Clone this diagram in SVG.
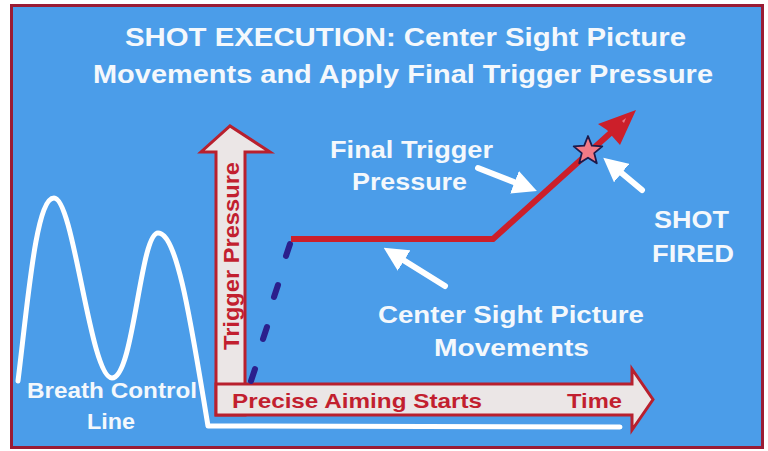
<svg xmlns="http://www.w3.org/2000/svg" width="768" height="451" viewBox="0 0 768 451">
<defs>
<style>
.t{font-family:"Liberation Sans",Arial,sans-serif;font-weight:bold;}
.w{fill:#f4f8fc;}
.r{fill:#c21f2f;}
.ax{fill:#ebe6e6;stroke:#b8202e;stroke-width:3;stroke-linejoin:miter;}
.wa{stroke:#ffffff;stroke-width:6;stroke-linecap:round;fill:none;}
.dash{stroke:#2b1f8c;stroke-width:6;stroke-linecap:round;}
</style>
<marker id="wh" viewBox="0 0 10 10" refX="2" refY="5" markerWidth="4" markerHeight="4" orient="auto" markerUnits="strokeWidth">
<path d="M0,0 L10,5 L0,10 Z" fill="#ffffff"/>
</marker>
</defs>
<rect x="0" y="0" width="768" height="451" fill="#ffffff"/>
<rect id="frame" x="11.5" y="5.5" width="751" height="442" fill="#4b9de9" stroke="#9a1c35" stroke-width="3"/>

<g id="title">
<text class="t w" x="125" y="46" font-size="26" textLength="561" lengthAdjust="spacingAndGlyphs">SHOT EXECUTION:  Center Sight Picture</text>
<text class="t w" x="93" y="83" font-size="26" textLength="620" lengthAdjust="spacingAndGlyphs">Movements and Apply Final Trigger Pressure</text>
</g>

<g id="breath">
<path d="M18,381 C28,300 36,198 54,198 C74,198 90,378 112,378 C134,378 140,233 158,233 C178,233 192,330 208,426 L620,427" stroke="#ffffff" stroke-width="5" fill="none" stroke-linejoin="round" stroke-linecap="round"/>
<text class="t w" x="27" y="398" font-size="22" textLength="170" lengthAdjust="spacingAndGlyphs">Breath Control</text>
<text class="t w" x="87" y="429" font-size="22" textLength="48" lengthAdjust="spacingAndGlyphs">Line</text>
</g>

<g id="y-axis">
<path class="ax" d="M216,415 L216,152 L201,152 L230,126 L270,152 L245,152 L245,415 Z"/>
<text class="t r" transform="translate(239,256) rotate(-90)" font-size="22" text-anchor="middle" textLength="188" lengthAdjust="spacingAndGlyphs">Trigger Pressure</text>
</g>

<g id="x-axis">
<path class="ax" d="M216,384 L632,384 L632,369 L653,399.5 L632,430 L632,415 L216,415 Z"/>
<text class="t r" x="232" y="408" font-size="21" textLength="250" lengthAdjust="spacingAndGlyphs">Precise Aiming Starts</text>
<text class="t r" x="567" y="408" font-size="21" textLength="55" lengthAdjust="spacingAndGlyphs">Time</text>
</g>

<g id="aim-dashes">
<line class="dash" x1="290" y1="244" x2="286" y2="256"/>
<line class="dash" x1="278" y1="285" x2="274" y2="297"/>
<line class="dash" x1="267" y1="327" x2="263" y2="339"/>
<line class="dash" x1="255" y1="369" x2="251" y2="381"/>
</g>

<g id="pressure-line">
<path d="M291,239 L493,239 L616,128" stroke="#cc1f2a" stroke-width="6" fill="none" stroke-linejoin="miter"/>
<path d="M636,110 L598,124 L607,130 L612,136 L620,145 Z" fill="#cc1f2a"/>
<path d="M622,121 L626,118 L624,123 Z" fill="#e87b86"/>
<polygon id="star" points="588,136 591.8,145.7 602.3,146.4 594.2,153.1 596.8,163.3 588,157.7 579.2,163.3 581.8,153.1 573.7,146.4 584.2,145.7" fill="#f27a86" stroke="#1e1a4a" stroke-width="1.8" stroke-linejoin="round"/>
</g>

<g id="labels">
<text class="t w" x="330" y="158" font-size="23" textLength="163" lengthAdjust="spacingAndGlyphs">Final Trigger</text>
<text class="t w" x="352" y="190" font-size="23" textLength="115" lengthAdjust="spacingAndGlyphs">Pressure</text>
<text class="t w" x="654" y="228" font-size="23" textLength="75" lengthAdjust="spacingAndGlyphs">SHOT</text>
<text class="t w" x="652" y="262" font-size="23" textLength="82" lengthAdjust="spacingAndGlyphs">FIRED</text>
<text class="t w" x="378" y="323" font-size="24" textLength="266" lengthAdjust="spacingAndGlyphs">Center Sight Picture</text>
<text class="t w" x="434" y="356" font-size="24" textLength="155" lengthAdjust="spacingAndGlyphs">Movements</text>
</g>

<g id="connectors">
<line class="wa" x1="478" y1="168" x2="519" y2="184" marker-end="url(#wh)"/>
<line class="wa" x1="642" y1="190" x2="618" y2="170" marker-end="url(#wh)"/>
<line class="wa" x1="445" y1="286" x2="400" y2="258" marker-end="url(#wh)"/>
</g>
</svg>
